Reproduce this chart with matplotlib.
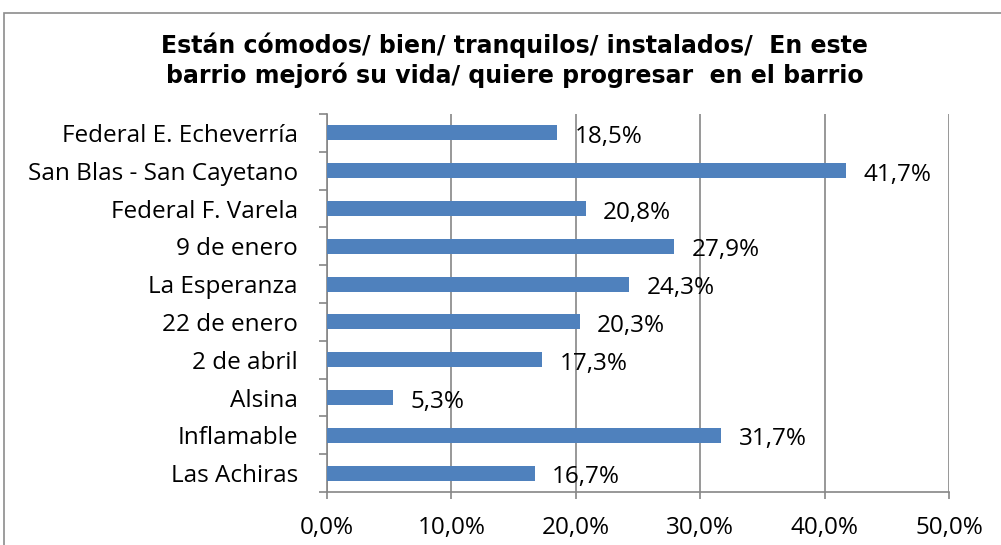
import matplotlib
matplotlib.use('Agg')
import matplotlib.pyplot as plt
from matplotlib.patches import Rectangle
import numpy as np

barrios = ['Federal E. Echeverría', 'San Blas - San Cayetano', 'Federal F. Varela',
           '9 de enero', 'La Esperanza', '22 de enero', '2 de abril', 'Alsina',
           'Inflamable', 'Las Achiras']
valores = [18.5, 41.7, 20.8, 27.9, 24.3, 20.3, 17.3, 5.3, 31.7, 16.7]
ticks_x = [0, 10, 20, 30, 40, 50]

titulo = ('Están cómodos/ bien/ tranquilos/ instalados/  En este\n'
          'barrio mejoró su vida/ quiere progresar  en el barrio')

azul = '#4F81BD'
gris = '#868686'
fuente = 'Open Sans'
tam = 17.5

fig = plt.figure(figsize=(10.01, 5.45), dpi=100)
# marco del grafico (solo se ve izq. y arriba)
fig.patches.append(Rectangle((0.004, -0.05), 1.2, 1.026, transform=fig.transFigure,
                             fill=False, edgecolor='#8c8c8c', linewidth=1.2))

ax = fig.add_axes([0.3267, 0.0972, 0.948 - 0.3267, 0.7908 - 0.0972])
y = np.arange(len(barrios))
ax.barh(y, valores, height=0.4, color=azul, zorder=3)

for yi, v in zip(y, valores):
    ax.annotate('{:.1f}%'.format(v).replace('.', ','), xy=(v, yi), xytext=(12.5, -3),
                textcoords='offset points', ha='left', va='center',
                fontsize=tam, family=fuente, color='black', zorder=4)

ax.set_xlim(0, 50)
ax.set_ylim(len(barrios) - 0.5, -0.5)
ax.set_xticks(ticks_x)
ax.set_xticklabels(['{:.1f}%'.format(t).replace('.', ',') for t in ticks_x],
                   fontsize=tam, family=fuente)
ax.set_yticks(y)
ax.set_yticklabels(barrios, fontsize=tam, family=fuente)
ax.tick_params(axis='y', length=0, pad=21)
ax.tick_params(axis='x', length=5, color=gris, width=1.2, pad=12)
# marcas entre categorias en el eje y
ax.set_yticks(np.arange(-0.5, len(barrios), 1), minor=True)
ax.tick_params(axis='y', which='minor', length=6, color=gris, width=1.2)

ax.grid(axis='x', color=gris, linewidth=1.2, zorder=0)
for s in ['top', 'right']:
    ax.spines[s].set_visible(False)
ax.spines['left'].set_color(gris)
ax.spines['bottom'].set_color(gris)
ax.spines['left'].set_linewidth(1.2)
ax.spines['bottom'].set_linewidth(1.2)

fig.text(0.514, 0.889, titulo, ha='center', va='center', fontsize=17,
         fontweight='bold', family='DejaVu Sans', linespacing=1.2)

plt.savefig('out.png', dpi=100)
